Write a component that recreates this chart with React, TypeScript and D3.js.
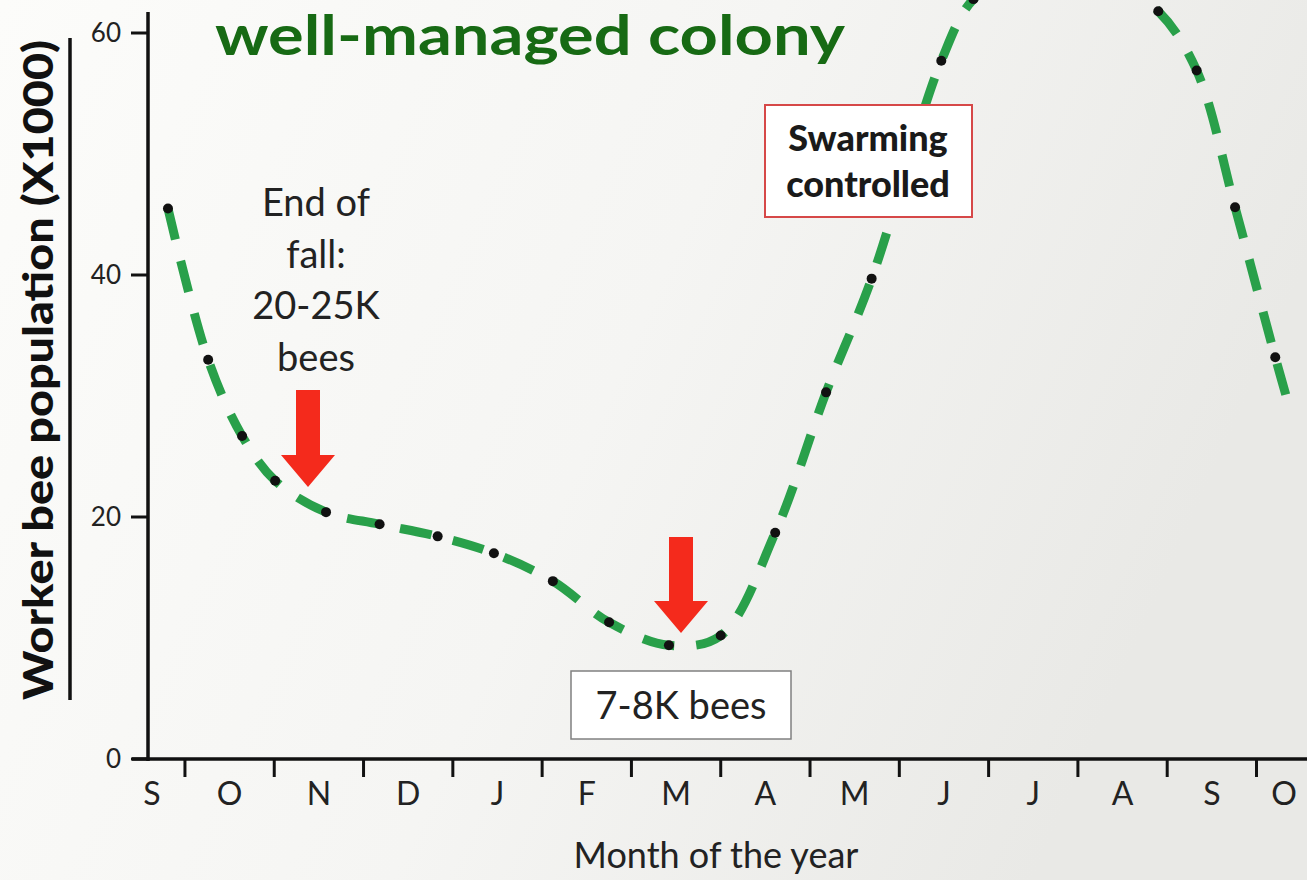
import React from 'react';
import * as d3 from 'd3';

// month labels along the bottom (Sept -> following Oct)
const months = ['S', 'O', 'N', 'D', 'J', 'F', 'M', 'A', 'M', 'J', 'J', 'A', 'S', 'O'];

// sample position, in months from the start of September
const monthPos = [0.31, 0.76, 1.14, 1.51, 2.08, 2.68, 3.33, 3.96, 4.62, 5.25, 5.92, 6.5, 7.11, 7.68, 8.19, 8.97, 9.33, 9.85, 10.37, 10.89, 11.4, 11.83, 12.26, 12.71, 12.89];
// worker bees (x1000)
const workers = [45.5, 33.0, 26.7, 23.0, 20.4, 19.4, 18.4, 17.0, 14.7, 11.3, 9.4, 10.2, 18.7, 30.3, 39.7, 57.7, 62.8, 65.2, 65.6, 64.2, 61.8, 56.9, 45.6, 33.2, 28.5];
// last sample is just where the hand-drawn line stops, no dot there
const hasDot = workers.map((_, i) => i < workers.length - 1);

const yTicks = [0, 20, 40, 60];

const W = 1307, H = 880;
const FONT = 'Lato, "Open Sans", sans-serif';

export default function App() {
  const x = d3.scaleLinear().domain([0, 12.5]).range([140.3, 1256.5]);
  const y = d3.scaleLinear().domain([0, 60]).range([759, 33]);
  const axisX = 148;
  const axisY = y(0);

  const idx = d3.range(workers.length);
  const line = d3.line<number>()
    .x(i => x(monthPos[i]))
    .y(i => y(workers[i]))
    .curve(d3.curveCatmullRom.alpha(0.5));

  // down arrow shape centered on cx, tip at tipY
  const arrow = (cx: number, top: number, tipY: number) => {
    const sw = 12, hw = 27, headH = 32;
    const hy = tipY - headH;
    return `M${cx - sw},${top} L${cx + sw},${top} L${cx + sw},${hy} L${cx + hw},${hy} L${cx},${tipY} L${cx - hw},${hy} L${cx - sw},${hy} Z`;
  };

  return (
    <svg width={W} height={H} style={{ position: 'absolute', left: 0, top: 0 }} fontFamily={FONT}>
      <defs>
        <linearGradient id="bg" x1="0" y1="0" x2="1" y2="0.3">
          <stop offset="0%" stopColor="#fcfcfa" />
          <stop offset="55%" stopColor="#f5f5f3" />
          <stop offset="100%" stopColor="#e9e9e6" />
        </linearGradient>
      </defs>
      <rect width={W} height={H} fill="url(#bg)" />

      {/* title */}
      <text x={215} y={55} fontSize={55} fontWeight="bold" fill="#176a14"
        textLength={630} lengthAdjust="spacingAndGlyphs">well-managed colony</text>

      {/* y axis label + its rule */}
      <text transform="translate(53,370) rotate(-90)" textAnchor="middle" fontSize={41}
        fontWeight="900" fill="#111" textLength={660} lengthAdjust="spacingAndGlyphs">
        Worker bee population (X1000)
      </text>
      <line x1={70} x2={70} y1={38} y2={700} stroke="#111" strokeWidth={3.5} />

      {/* axes */}
      <line x1={axisX} x2={axisX} y1={12} y2={axisY + 2} stroke="#111" strokeWidth={3.5} />
      <line x1={132} x2={W} y1={axisY} y2={axisY} stroke="#111" strokeWidth={3.5} />
      {yTicks.map(t => (
        <g key={t}>
          <line x1={131} x2={axisX} y1={y(t)} y2={y(t)} stroke="#111" strokeWidth={3} />
          <text x={121} y={y(t)} dy="0.35em" textAnchor="end" fontSize={26} fill="#222">{t}</text>
        </g>
      ))}
      {months.slice(0, -1).map((_, i) => (
        <line key={i} x1={x(i + 0.5)} x2={x(i + 0.5)} y1={axisY} y2={axisY + 18}
          stroke="#111" strokeWidth={3} />
      ))}
      {months.map((m, i) => (
        <text key={i} x={Math.min(Math.max(x(i), 152), 1284)} y={794} dy="0.35em"
          textAnchor="middle" fontSize={32} fill="#222">{m}</text>
      ))}
      <text x={716} y={855} dy="0.35em" textAnchor="middle" fontSize={36} fill="#222">
        Month of the year
      </text>

      {/* data */}
      <path d={line(idx) || ''} fill="none" stroke="#29a04a" strokeWidth={9}
        strokeDasharray="32 22" />
      {idx.filter(i => hasDot[i]).map(i => (
        <circle key={i} cx={x(monthPos[i])} cy={y(workers[i])} r={5} fill="#111" />
      ))}

      {/* annotations */}
      <g fontSize={38} fill="#222" textAnchor="middle">
        {['End of', 'fall:', '20-25K', 'bees'].map((s, i) => (
          <text key={i} x={316} y={203 + i * 51.5} dy="0.35em">{s}</text>
        ))}
      </g>
      <path d={arrow(308, 390, 487)} fill="#f42a1c" />
      <path d={arrow(681, 537, 633)} fill="#f42a1c" />

      <rect x={571} y={671} width={220} height={68} fill="#fff" stroke="#808080" strokeWidth={1.5} />
      <text x={681} y={706} dy="0.35em" textAnchor="middle" fontSize={38} fill="#222">7-8K bees</text>

      <rect x={765} y={105} width={207} height={112} fill="#fff" stroke="#d64848" strokeWidth={2} />
      <g fontSize={36} fontWeight="900" fill="#1a1a1a" textAnchor="middle">
        <text x={868} y={138} dy="0.35em">Swarming</text>
        <text x={868} y={184} dy="0.35em">controlled</text>
      </g>
    </svg>
  );
}
